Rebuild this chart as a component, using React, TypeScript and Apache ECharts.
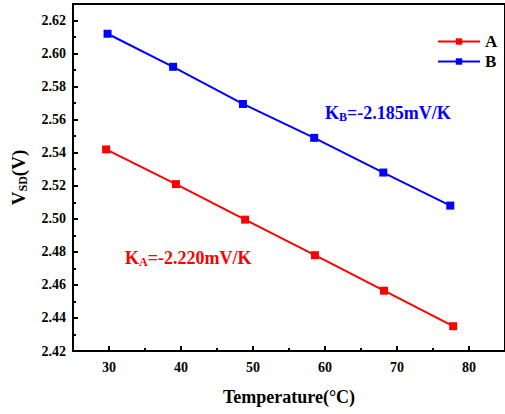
import React, { useEffect, useRef } from "react";
import * as echarts from "echarts";

const tempA = [29.6, 39.3, 48.9, 58.6, 68.2, 77.8];
const vsdA = [2.542, 2.521, 2.4995, 2.478, 2.4565, 2.435];
const tempB = [29.8, 38.9, 48.6, 58.5, 68.1, 77.4];
const vsdB = [2.612, 2.592, 2.5695, 2.549, 2.528, 2.508];
const xTicks = [30, 40, 50, 60, 70, 80];
const xMinorTicks = [35, 45, 55, 65, 75];
const yTicks = [2.42, 2.44, 2.46, 2.48, 2.5, 2.52, 2.54, 2.56, 2.58, 2.6, 2.62];
const yMinorTicks = [2.43, 2.45, 2.47, 2.49, 2.51, 2.53, 2.55, 2.57, 2.59, 2.61];

const FONT = "'Liberation Serif', 'Times New Roman', serif";

export default function App() {
  const ref = useRef<HTMLDivElement>(null);
  useEffect(() => {
    const chart = echarts.init(ref.current!, null, { renderer: "svg" });
    const baseX = { type: "value", min: 25, max: 85, gridIndex: 0 };
    const baseY = { type: "value", min: 2.42, max: 2.63, gridIndex: 0 };
    chart.setOption({
      animation: false,
      backgroundColor: "#fff",
      grid: {
        left: 73,
        top: 4,
        right: -2,
        bottom: 63,
        show: true,
        borderColor: "#000",
        borderWidth: 2,
      },
      legend: {
        orient: "vertical",
        left: 432,
        top: 28,
        itemWidth: 42,
        itemHeight: 8,
        itemGap: 3,
        textStyle: { fontFamily: FONT, fontWeight: "bold", fontSize: 17, color: "#000" },
        data: ["A", "B"],
      },
      xAxis: [
        {
          ...baseX,
          position: "bottom",
          name: "Temperature(°C)",
          nameLocation: "middle",
          nameGap: 37,
          nameTextStyle: { fontFamily: FONT, fontWeight: "bold", fontSize: 18, color: "#000" },
          axisLine: { show: true, lineStyle: { color: "#000", width: 2 } },
          axisTick: { show: true, inside: true, length: 5, lineStyle: { width: 2, color: "#000" }, customValues: xTicks },
          axisLabel: {
            customValues: xTicks,
            margin: 9,
            fontFamily: FONT,
            fontWeight: "bold",
            fontSize: 14,
            color: "#000",
          },
          splitLine: { show: false },
        },
        {
          ...baseX,
          position: "bottom",
          axisLine: { show: false },
          axisTick: { show: true, inside: true, length: 3, lineStyle: { width: 2, color: "#000" }, customValues: xMinorTicks },
          axisLabel: { show: false },
          splitLine: { show: false },
        },
      ],
      yAxis: [
        {
          ...baseY,
          position: "left",
          name: "{a|V}{s|SD}{a|(V)}",
          nameLocation: "middle",
          nameGap: 44,
          nameTextStyle: {
            rich: {
              a: { fontFamily: FONT, fontWeight: "bold", fontSize: 19, color: "#000" },
              s: { fontFamily: FONT, fontWeight: "bold", fontSize: 12, color: "#000", padding: [9, 0, 0, 0] },
            },
          },
          axisLine: { show: true, lineStyle: { color: "#000", width: 2 } },
          axisTick: { show: true, inside: true, length: 5, lineStyle: { width: 2, color: "#000" }, customValues: yTicks },
          axisLabel: {
            customValues: yTicks,
            margin: 7,
            formatter: (v: number) => v.toFixed(2),
            fontFamily: FONT,
            fontWeight: "bold",
            fontSize: 14,
            color: "#000",
          },
          splitLine: { show: false },
        },
        {
          ...baseY,
          position: "left",
          axisLine: { show: false },
          axisTick: { show: true, inside: true, length: 3, lineStyle: { width: 2, color: "#000" }, customValues: yMinorTicks },
          axisLabel: { show: false },
          splitLine: { show: false },
        },
      ],
      series: [
        {
          name: "A",
          type: "line",
          xAxisIndex: 0,
          yAxisIndex: 0,
          data: tempA.map((t, i) => [t, vsdA[i]]),
          symbol: "rect",
          symbolSize: 8,
          lineStyle: { color: "#ff0000", width: 2 },
          itemStyle: { color: "#ff0000" },
        },
        {
          name: "B",
          type: "line",
          xAxisIndex: 0,
          yAxisIndex: 0,
          data: tempB.map((t, i) => [t, vsdB[i]]),
          symbol: "rect",
          symbolSize: 8,
          lineStyle: { color: "#0000ff", width: 2 },
          itemStyle: { color: "#0000ff" },
        },
      ],
      graphic: [
        {
          type: "text",
          left: 325,
          top: 104,
          style: {
            text: "{a|K}{s|B}{a|=-2.185mV/K}",
            rich: {
              a: { fontFamily: FONT, fontWeight: "bold", fontSize: 18, fill: "#0000ff" },
              s: { fontFamily: FONT, fontWeight: "bold", fontSize: 12, fill: "#0000ff", padding: [7, 0, 0, 0] },
            },
          },
        },
        {
          type: "text",
          left: 125,
          top: 249,
          style: {
            text: "{a|K}{s|A}{a|=-2.220mV/K}",
            rich: {
              a: { fontFamily: FONT, fontWeight: "bold", fontSize: 18, fill: "#ff0000" },
              s: { fontFamily: FONT, fontWeight: "bold", fontSize: 12, fill: "#ff0000", padding: [7, 0, 0, 0] },
            },
          },
        },
      ],
    });
    return () => chart.dispose();
  }, []);
  return <div ref={ref} style={{ width: 505, height: 414, position: "absolute", left: 0, top: 0 }} />;
}
